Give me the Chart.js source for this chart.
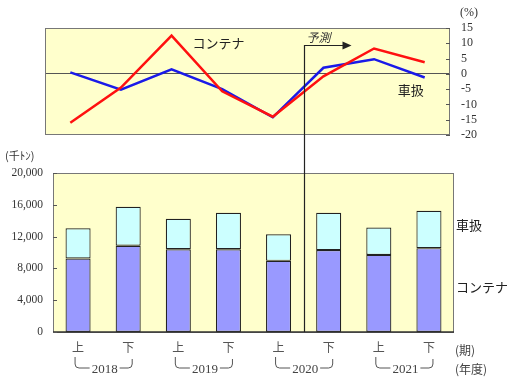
<!DOCTYPE html>
<html><head><meta charset="utf-8">
<script src="https://cdn.jsdelivr.net/npm/chart.js@4/dist/chart.umd.min.js"></script>
<style>
html,body{margin:0;padding:0;background:#fff;}
#wrap{position:relative;width:520px;height:381px;overflow:hidden;}
canvas{position:absolute;left:0;}
#top{top:0;} #bot{top:140px;}
</style></head><body>
<div id="wrap"><canvas id="top" width="520" height="140"></canvas><canvas id="bot" width="520" height="241"></canvas></div>
<script>
const periods = ['上','下','上','下','上','下','上','下'];
const years = ['2018','2019','2020','2021'];
const containerTons = [9250, 10850, 10400, 10400, 8950, 10300, 9700, 10550];
const carTons = [3800, 4900, 3850, 4600, 3350, 4700, 3450, 4700];
const containerPct = [-16, -4.5, 12.5, -5.7, -14, -0.8, 8.3, 3.8];
const carPct = [0.5, -5.2, 1.5, -5, -14.2, 2, 4.8, -1.2];
const tonTicks = ['0','4,000','8,000','12,000','16,000','20,000'];
const pctTicks = ['-20','-15','-10','-5','0','5','10','15'];
const forecastStart = 5;

const BG = '#FFFFCC';
const SERIF = '"Liberation Serif", "DejaVu Serif", serif';
const JP = '"Noto Sans CJK JP", sans-serif';
let forecastX = null;

function forecastPixel(xs){
  return (xs.getPixelForValue(forecastStart-1) + xs.getPixelForValue(forecastStart))/2;
}

const bgPlugin = {
  id:'bg',
  beforeDraw(chart){
    const a = chart.chartArea, c = chart.ctx;
    c.save(); c.fillStyle = BG; c.fillRect(a.left, a.top, a.right-a.left, a.bottom-a.top); c.restore();
  }
};

const botPlugin = {
  id:'bot',
  afterDraw(chart){
    const a = chart.chartArea, c = chart.ctx, xs = chart.scales.x, ys = chart.scales.y;
    c.save();
    c.strokeStyle = '#777'; c.lineWidth = 1;
    c.strokeRect(a.left+0.5, a.top+0.5, a.right-a.left-1, a.bottom-a.top);
    c.strokeStyle = '#333'; c.lineWidth = 1.5;
    c.beginPath(); c.moveTo(a.left, a.bottom); c.lineTo(a.right, a.bottom); c.stroke();
    c.lineWidth = 1;
    c.strokeStyle = '#555';
    ys.ticks.forEach(t => {
      const y = Math.round(ys.getPixelForValue(t.value))+0.5;
      c.beginPath(); c.moveTo(a.left, y); c.lineTo(a.left+4, y); c.stroke();
    });
    forecastX = Math.round(forecastPixel(xs))+0.5;
    c.strokeStyle = '#222'; c.lineWidth = 1.2;
    c.beginPath(); c.moveTo(forecastX, 0); c.lineTo(forecastX, a.bottom); c.stroke();
    c.fillStyle = '#222'; c.font = '13px ' + JP; c.textBaseline = 'middle'; c.textAlign = 'left';
    c.fillText('車扱', a.right+2, ys.getPixelForValue(13500));
    c.fillText('コンテナ', a.right+2, ys.getPixelForValue(5600));
    c.font = '11px ' + JP; c.fillStyle = '#333';
    c.fillText('(千ﾄﾝ)', 5, 16);
    const y0 = a.bottom + 25, y1 = a.bottom + 36;
    c.font = '13px ' + SERIF; c.fillStyle = '#444'; c.textAlign = 'center';
    c.strokeStyle = '#555'; c.lineWidth = 1;
    years.forEach((yr, i) => {
      const xa = xs.getPixelForValue(2*i) - 3, xb = xs.getPixelForValue(2*i+1) + 4;
      const xm = (xa+xb)/2 + 1;
      const w = c.measureText(yr).width;
      c.fillText(yr, xm, y1+2);
      c.beginPath();
      c.moveTo(xa, y0); c.lineTo(xa, y1-4); c.quadraticCurveTo(xa, y1, xa+4, y1); c.lineTo(xm - w/2 - 2, y1);
      c.moveTo(xm + w/2 + 2, y1); c.lineTo(xb-4, y1); c.quadraticCurveTo(xb, y1, xb, y1-4); c.lineTo(xb, y0+2);
      c.stroke();
    });
    c.font = '12px ' + JP; c.fillStyle = '#444'; c.textAlign = 'left';
    c.fillText('(期)', a.right+1, a.bottom+18);
    c.fillText('(年度)', a.right+1, y1+1);
    c.restore();
  }
};

const botChart = new Chart(document.getElementById('bot'), {
  type:'bar',
  data:{ labels: periods, datasets:[
    {label:'コンテナ', data: containerTons, backgroundColor:'#9999FF', borderColor:'#222', borderWidth:1.2, borderSkipped:false},
    {label:'車扱', data: carTons, backgroundColor:'#CCFFFF', borderColor:'#222', borderWidth:1.2, borderSkipped:false}
  ]},
  options:{
    responsive:false, animation:false, events:[],
    layout:{padding:{top:33, right:66, left:0, bottom:0}},
    plugins:{legend:{display:false}, tooltip:{enabled:false}},
    datasets:{bar:{barPercentage:0.5, categoryPercentage:1}},
    scales:{
      x:{ stacked:true, offset:true, grid:{display:false, drawTicks:false}, border:{display:false},
          ticks:{font:{family:JP, size:12}, color:'#555', padding:8, maxRotation:0, autoSkip:false},
          afterFit(s){ s.height = 49; } },
      y:{ stacked:true, min:0, max:20000, grid:{display:false, drawTicks:false}, border:{display:false},
          ticks:{stepSize:4000, font:{family:SERIF, size:11.5}, color:'#333', padding:10, autoSkip:false,
                 callback:(v)=> tonTicks[Math.round(v/4000)]},
          afterFit(s){ s.width = 53; } }
    }
  },
  plugins:[bgPlugin, botPlugin]
});

const topPlugin = {
  id:'topp',
  afterDraw(chart){
    const a = chart.chartArea, c = chart.ctx, xs = chart.scales.x, ys = chart.scales.y;
    c.save();
    c.strokeStyle = '#777'; c.lineWidth = 1;
    c.strokeRect(a.left+0.5, a.top+0.5, a.right-a.left-1, a.bottom-a.top-1);
    c.strokeStyle = '#555';
    ys.ticks.forEach(t => {
      const y = Math.round(ys.getPixelForValue(t.value))+0.5;
      c.beginPath(); c.moveTo(a.right-4, y); c.lineTo(a.right, y); c.stroke();
    });
    c.fillStyle = '#333'; c.font = '12px ' + SERIF; c.textAlign = 'left'; c.textBaseline = 'middle';
    c.fillText('(%)', a.right+10, 13);
    c.fillStyle = '#222'; c.font = '13px ' + JP;
    c.fillText('コンテナ', xs.getPixelForValue(2) + 21, ys.getPixelForValue(10));
    c.fillText('車扱', xs.getPixelForValue(7) - 27, ys.getPixelForValue(-5.2));
    const fx = forecastX !== null ? forecastX : Math.round(forecastPixel(xs))+0.5;
    const fy = Math.round(ys.getPixelForValue(9.5))+0.5;
    c.strokeStyle = '#222'; c.lineWidth = 1.2;
    c.beginPath(); c.moveTo(fx, chart.height); c.lineTo(fx, fy); c.lineTo(fx+40, fy); c.stroke();
    c.fillStyle = '#222';
    c.beginPath(); c.moveTo(fx+47, fy); c.lineTo(fx+38, fy-4); c.lineTo(fx+38, fy+4); c.closePath(); c.fill();
    c.font = 'italic 12px ' + JP; c.fillStyle = '#333';
    c.fillText('予測', fx+2, fy-8);
    c.restore();
  }
};

const topChart = new Chart(document.getElementById('top'), {
  type:'line',
  data:{ labels: periods, datasets:[
    {label:'コンテナ', data: containerPct, borderColor:'#FF1010', borderWidth:2.5, pointRadius:0, tension:0, fill:false},
    {label:'車扱', data: carPct, borderColor:'#1A1AE8', borderWidth:2.5, pointRadius:0, tension:0, fill:false}
  ]},
  options:{
    responsive:false, animation:false, events:[],
    layout:{padding:{top:28, left:45, bottom:5, right:0}},
    plugins:{legend:{display:false}, tooltip:{enabled:false}},
    scales:{
      x:{ type:'category', offset:true, display:false },
      y:{ position:'right', min:-20, max:15, border:{display:false},
          grid:{drawTicks:false, color:(ctx)=> ctx.tick && ctx.tick.value===0 ? '#555' : 'rgba(0,0,0,0)'},
          ticks:{stepSize:5, autoSkip:false, font:{family:SERIF, size:12}, color:'#333', padding:11,
                 callback:(v)=> pctTicks[Math.round((v+20)/5)]},
          afterFit(s){ s.width = 70; s.paddingTop = 0; s.paddingBottom = 0; } }
    }
  },
  plugins:[bgPlugin, topPlugin]
});
</script>
</body></html>
